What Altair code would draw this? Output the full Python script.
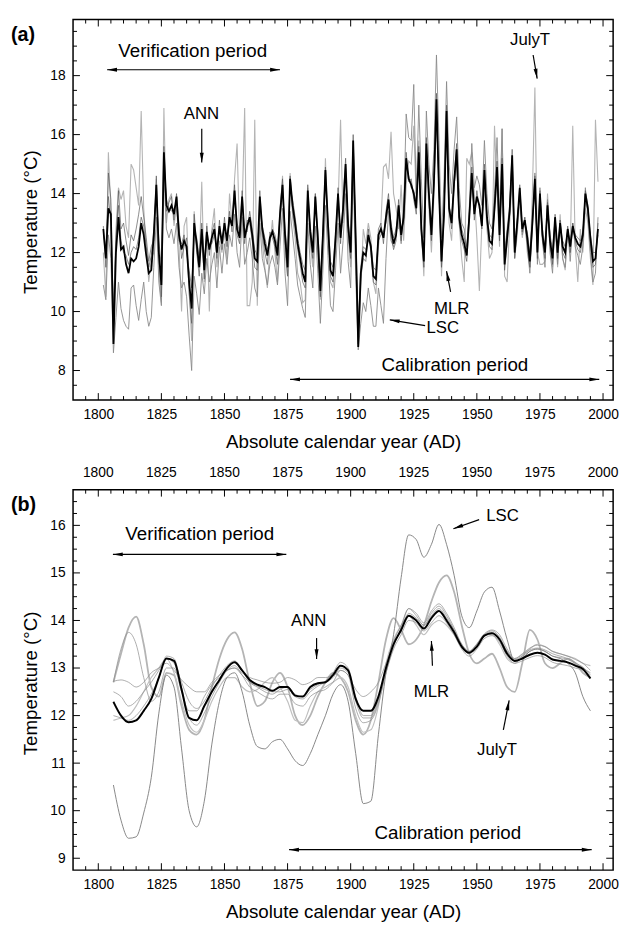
import math
import altair as alt
import pandas as pd

FONT = "Liberation Sans"
W, H = 548, 386
XDOM = [1790, 2004]
YDOM_A = [7.0, 19.9]
YDOM_B = [8.75, 16.75]

XLAB = [1800, 1825, 1850, 1875, 1900, 1925, 1950, 1975, 2000]
YLAB_A = [8, 10, 12, 14, 16, 18]
YLAB_B = [9, 10, 11, 12, 13, 14, 15, 16]

# ---------------- panel (a): annual values 1802-1998 ----------------
YEARS_A = list(range(1802, 1999))

MLR_A = [
    12.8, 11.8, 13.5, 13.3, 8.9, 12.0, 13.2, 12.1, 12.2, 11.6,
    11.3, 11.8, 11.7, 11.8, 12.2, 13.0, 12.6, 11.9, 11.3, 11.4,
    12.6, 14.3, 12.0, 10.9, 15.4, 13.6, 13.4, 13.6, 13.3, 13.9,
    12.6, 12.1, 12.4, 12.2, 11.0, 10.1, 13.0, 12.3, 11.5, 12.8,
    11.4, 12.7, 12.1, 12.5, 12.8, 12.0, 12.9, 12.3, 13.0, 12.4,
    13.2, 12.9, 14.1, 12.8, 12.5, 13.9, 12.5, 12.9, 13.2, 12.6,
    11.8, 11.7, 13.9, 12.8, 12.3, 11.9, 12.5, 12.7, 12.4, 11.9,
    13.3, 14.3, 12.6, 11.5, 14.5, 13.6, 13.0, 12.3, 11.8, 11.3,
    11.0, 14.1, 12.7, 12.0, 13.9, 12.5, 10.7, 12.6, 14.8, 13.0,
    11.4, 11.2, 12.5, 14.0, 12.5, 13.5, 15.0, 12.9, 12.0, 15.8,
    12.5, 8.8, 11.3, 12.0, 11.9, 12.6, 12.2, 11.2, 11.1, 12.6,
    12.8, 12.5, 13.2, 13.8, 12.8, 12.3, 12.6, 13.6, 12.6, 13.2,
    15.2, 14.5, 14.3, 14.0, 13.5, 15.4, 12.8, 11.7, 15.7, 14.0,
    12.6, 14.4, 17.2, 14.1, 11.7, 13.3, 16.8, 13.5, 13.0, 14.4,
    15.5, 13.2, 12.6, 12.3, 11.9, 13.2, 14.7, 13.3, 13.9, 13.6,
    12.9, 14.8, 13.2, 12.4, 12.3, 13.5, 14.9, 12.6, 15.0, 11.6,
    12.5, 13.4, 15.3, 12.0, 13.0, 14.2, 12.8, 13.1, 12.5, 11.7,
    13.0, 14.5, 12.0, 14.0, 12.6, 12.0, 13.6, 12.4, 11.8, 13.2,
    12.0, 13.0, 12.2, 12.0, 12.8, 12.2, 12.9, 12.5, 12.3, 12.2,
    12.6, 14.0, 13.5, 12.5, 11.7, 11.8, 12.8,
]

E1_A = [
    12.6, 12.2, 13.9, 13.0, 10.0, 12.5, 13.6, 12.4, 12.0, 11.9,
    11.6, 12.0, 12.2, 12.1, 12.5, 13.2, 12.9, 12.2, 11.5, 11.9,
    12.8, 14.1, 12.4, 11.5, 15.0, 13.8, 13.5, 13.4, 13.5, 13.7,
    12.4, 12.3, 12.6, 12.0, 11.4, 10.8, 12.7, 12.5, 11.8, 13.0,
    11.8, 12.5, 12.3, 12.3, 12.6, 12.2, 12.7, 12.5, 12.8, 12.6,
    13.0, 13.1, 13.8, 13.0, 12.7, 13.6, 12.8, 12.7, 13.4, 12.8,
    12.1, 11.9, 13.6, 12.9, 12.5, 12.1, 12.4, 12.8, 12.6, 12.2,
    13.1, 14.0, 12.8, 11.9, 14.2, 13.8, 13.2, 12.5, 12.0, 11.6,
    11.4, 13.8, 12.9, 12.2, 13.7, 12.7, 11.2, 12.5, 14.4, 13.2,
    11.7, 11.5, 12.6, 13.8, 12.7, 13.4, 14.7, 13.1, 12.3, 15.4,
    12.7, 9.5, 11.5, 12.2, 12.1, 12.4, 12.3, 11.5, 11.4, 12.4,
    12.6, 12.7, 13.0, 13.6, 13.0, 12.5, 12.8, 13.4, 12.8, 13.0,
    15.0, 14.6, 14.2, 14.1, 13.7, 15.1, 13.0, 12.0, 15.3, 14.1,
    12.8, 14.3, 16.8, 14.0, 12.0, 13.4, 16.4, 13.6, 13.2, 14.3,
    15.1, 13.4, 12.8, 12.5, 12.2, 13.3, 14.4, 13.5, 13.8, 13.6,
    13.0, 14.6, 13.3, 12.6, 12.5, 13.4, 14.6, 12.8, 14.7, 11.9,
    12.7, 13.3, 15.0, 12.3, 13.1, 14.0, 12.9, 13.0, 12.7, 12.0,
    13.1, 14.2, 12.2, 13.8, 12.8, 12.2, 13.5, 12.6, 12.1, 13.1,
    12.2, 12.9, 12.4, 12.2, 12.7, 12.4, 12.8, 12.6, 12.5, 12.4,
    12.7, 13.8, 13.4, 12.6, 12.0, 12.0, 12.6,
]

E2_A = [
    12.9, 11.5, 14.7, 13.8, 9.6, 12.2, 14.1, 12.8, 13.0, 12.4,
    11.9, 12.6, 12.4, 12.8, 13.3, 13.9, 13.2, 12.5, 11.7, 12.2,
    12.4, 14.6, 11.8, 10.5, 15.6, 13.4, 13.7, 13.9, 13.1, 14.0,
    12.9, 11.8, 12.2, 12.5, 10.6, 9.6, 13.3, 12.0, 11.2, 12.6,
    11.1, 12.9, 11.9, 12.7, 13.0, 11.8, 13.1, 12.1, 13.2, 12.2,
    13.4, 12.7, 14.3, 12.6, 12.3, 14.1, 12.3, 13.1, 13.0, 12.4,
    11.5, 11.4, 14.1, 12.6, 12.0, 11.6, 12.7, 12.5, 12.2, 11.6,
    13.5, 14.5, 12.4, 11.2, 14.6, 13.4, 12.8, 12.1, 11.6, 11.0,
    10.8, 14.3, 12.5, 11.8, 14.0, 12.3, 10.5, 12.8, 14.9, 12.8,
    11.2, 11.0, 12.3, 14.2, 12.3, 13.7, 15.2, 12.7, 11.8, 16.0,
    12.3, 8.9, 11.1, 11.8, 11.7, 12.8, 12.0, 11.0, 10.9, 12.8,
    13.0, 12.3, 13.4, 14.0, 12.6, 12.1, 12.4, 13.8, 12.4, 13.4,
    15.4, 14.4, 14.5, 13.8, 13.3, 15.6, 12.6, 11.5, 15.9, 13.8,
    12.4, 14.6, 17.4, 14.2, 11.5, 13.2, 17.0, 13.4, 12.8, 14.5,
    15.7, 13.0, 12.4, 12.1, 11.7, 13.1, 14.9, 13.1, 14.1, 13.5,
    12.8, 15.0, 13.1, 12.2, 12.1, 13.6, 15.1, 12.4, 15.2, 11.4,
    12.3, 13.5, 15.5, 11.8, 12.9, 14.3, 12.7, 13.2, 12.3, 11.5,
    12.9, 14.6, 11.8, 14.1, 12.4, 11.8, 13.7, 12.2, 11.6, 13.3,
    11.8, 13.1, 12.0, 11.8, 12.9, 12.0, 13.0, 12.4, 12.1, 12.0,
    12.5, 14.1, 13.6, 12.3, 11.5, 11.6, 13.0,
]

LSC_A = [
    10.9, 10.4, 12.6, 11.8, 8.6, 9.8, 11.0, 10.1, 9.7, 9.5,
    9.4, 10.8, 10.9, 10.2, 9.7, 10.4, 11.0, 10.0, 9.5, 9.8,
    11.5, 13.2, 11.0, 10.2, 14.6, 12.8, 12.5, 12.8, 12.3, 13.0,
    11.5, 10.8, 11.0, 10.5, 9.2, 8.0, 11.2, 10.6, 9.9, 11.3,
    10.6, 11.8, 11.0, 11.6, 12.0, 10.8, 12.2, 11.3, 12.3, 11.6,
    12.6, 12.2, 13.3, 12.0, 11.5, 13.2, 11.6, 12.0, 12.5, 11.8,
    10.8, 10.5, 13.0, 11.8, 11.4, 10.9, 11.6, 11.9, 11.5, 10.9,
    12.2, 13.5, 11.3, 10.2, 13.4, 12.6, 11.8, 10.9, 10.5, 10.1,
    9.8, 13.0, 11.6, 10.8, 12.9, 11.3, 9.6, 11.4, 13.6, 11.9,
    10.2, 10.0, 11.4, 13.0, 11.3, 12.4, 14.0, 11.7, 10.8, 14.8,
    11.2, 8.7, 9.6, 10.3, 10.0, 10.8, 10.2, 9.5, 9.5, 10.8,
    10.2, 9.6, 11.8, 13.4, 12.4, 12.2, 12.6, 13.2, 12.3, 13.4,
    16.7, 15.9, 15.8, 17.7, 14.0, 17.0, 14.5, 12.5, 16.8, 15.0,
    14.0, 15.5, 18.7, 15.8, 12.5, 14.5, 17.8, 15.0, 14.0, 15.5,
    16.6, 14.2, 13.0, 12.8, 12.0, 13.5, 15.7, 14.2, 14.6, 14.3,
    13.6, 15.8, 14.0, 13.0, 12.8, 14.0, 15.9, 13.2, 16.2, 12.0,
    12.8, 13.6, 15.2, 12.0, 13.1, 14.0, 12.6, 13.0, 12.2, 11.3,
    12.8, 14.7, 11.6, 14.2, 12.4, 11.5, 13.8, 12.0, 11.3, 13.2,
    11.6, 13.1, 11.8, 11.5, 12.8, 11.7, 13.0, 12.2, 11.9, 11.6,
    12.2, 14.2, 13.2, 12.0, 11.0, 11.3, 13.2,
]

JULYT_A = [
    12.0, 10.5, 15.4, 13.4, 9.4, 12.8, 14.2, 13.8, 14.1, 12.9,
    12.5, 15.0, 14.8, 14.2, 13.6, 16.8, 13.5, 12.2, 11.0, 11.8,
    12.0, 14.5, 11.3, 10.3, 16.9, 13.0, 13.8, 14.0, 12.9, 13.6,
    12.2, 10.0, 12.9, 13.2, 10.8, 9.0, 13.4, 12.0, 11.6, 14.4,
    11.0, 13.0, 10.0, 12.8, 13.5, 11.5, 12.4, 12.0, 12.7, 11.8,
    14.0, 13.0, 14.5, 15.7, 12.5, 13.5, 16.9, 10.2, 10.2, 11.0,
    16.5, 10.2, 13.6, 12.4, 11.5, 10.8, 12.2, 13.1, 12.0, 11.0,
    13.0, 14.6, 12.0, 11.2, 14.7, 13.2, 12.5, 11.3, 11.0, 10.3,
    10.4, 14.2, 12.3, 11.5, 14.0, 12.0, 10.4, 11.9, 15.2, 12.6,
    11.0, 10.8, 12.0, 13.5, 16.5, 13.0, 14.5, 12.5, 11.5, 15.8,
    12.0, 9.2, 10.8, 12.8, 12.3, 13.0, 12.5, 11.0, 10.6, 12.2,
    13.0, 14.9, 15.0, 14.5, 16.1, 14.0, 13.5, 12.8, 14.3, 12.4,
    14.3, 15.1, 15.0, 16.3, 13.8, 15.8, 12.8, 11.2, 15.0, 13.5,
    12.0, 13.9, 16.5, 14.5, 11.2, 13.5, 16.2, 13.0, 12.4, 14.2,
    15.2, 13.0, 11.8, 11.0, 15.2, 15.0, 15.4, 14.0, 12.5, 10.7,
    13.0, 14.2, 12.8, 11.8, 12.0, 16.3, 14.0, 12.2, 16.2, 11.2,
    11.0, 13.0, 14.5, 11.8, 12.6, 13.8, 12.5, 13.2, 12.0, 11.5,
    14.0, 17.6, 12.0, 11.6, 11.6, 11.7, 14.0, 12.5, 11.5, 13.0,
    11.5, 13.3, 11.8, 11.4, 12.8, 12.0, 16.3, 12.2, 11.0, 12.8,
    12.0, 13.5, 13.0, 11.8, 10.9, 16.5, 14.4,
]

# ---------------- panel (b): smoothed values, read every 3 years ----------------
YEARS_B = list(range(1806, 1996, 3))

MLR_B = [
    12.29, 12.0, 11.86, 11.9, 12.1, 12.35, 12.8, 13.2, 13.15, 12.55,
    11.95, 11.9, 12.2, 12.5, 12.75, 13.0, 13.12, 12.95, 12.75, 12.65,
    12.6, 12.52, 12.6, 12.6, 12.42, 12.4, 12.6, 12.68, 12.7, 12.85,
    13.05, 12.95, 12.35, 12.1, 12.1, 12.4, 13.0, 13.5, 13.8, 14.1,
    14.0, 13.83, 14.05, 14.2, 14.0, 13.75, 13.45, 13.32, 13.45, 13.68,
    13.73, 13.6, 13.3, 13.15, 13.2, 13.28, 13.32, 13.28, 13.18, 13.15,
    13.12, 13.05, 12.98, 12.78,
]
LSC_B = [
    10.54, 9.8, 9.42, 9.45, 9.95, 10.7, 12.05, 12.85, 12.6, 11.3,
    10.0, 9.66, 10.2, 11.4, 12.3, 12.8, 12.9, 12.5, 11.8, 11.35,
    11.3, 11.45, 11.5, 11.3, 11.05, 10.95, 11.2, 11.6, 12.0, 12.45,
    12.65, 12.3, 11.2, 10.15, 10.2, 11.6, 12.9, 13.7, 14.9, 15.8,
    15.7, 15.33, 15.6, 16.02, 15.6, 14.95, 14.1, 13.85, 14.2, 14.6,
    14.7, 14.2, 13.6, 13.15, 13.2, 13.35, 13.4, 13.35, 13.25, 13.2,
    13.1, 12.9, 12.4, 12.1,
]
JULYT_B = [
    12.7, 13.3, 13.85, 14.08, 13.5, 12.6, 12.4, 12.9, 12.85, 12.2,
    11.7, 11.6, 11.9, 12.6, 13.2, 13.6, 13.75, 13.4, 12.7, 12.2,
    12.3, 12.7, 12.9, 12.6, 12.0, 11.8, 12.0, 12.4, 12.7, 12.9,
    12.8, 12.5, 11.9, 11.6, 11.9, 12.7, 13.6, 14.05, 13.8, 13.5,
    13.6, 13.9, 14.4, 14.8, 14.95, 14.6, 13.9, 13.3, 13.1, 13.2,
    13.3, 13.0, 12.6, 12.5, 13.1, 13.8, 13.6, 13.1, 13.0, 13.1,
    13.2, 13.1, 12.9, 12.8,
]
L2_B = [
    11.9, 11.95, 12.0, 12.2, 12.5, 12.8, 13.0, 13.2, 12.9, 12.3,
    11.8, 11.65, 11.9, 12.3, 12.6, 12.8, 12.8, 12.6, 12.5, 12.55,
    12.7, 12.8, 12.6, 12.3, 11.9, 11.85, 12.2, 12.5, 12.6, 12.7,
    12.8, 12.6, 12.0, 11.65, 11.7, 12.2, 13.1, 13.6, 13.9, 14.1,
    13.9, 13.7, 13.9, 14.0, 13.9, 13.7, 13.45, 13.35, 13.5, 13.7,
    13.7, 13.5, 13.2, 13.1, 13.25, 13.4, 13.5, 13.45, 13.35, 13.3,
    13.25, 13.2, 13.1, 13.05,
]
EB1 = [
    12.72, 12.75, 12.7, 12.6, 12.7, 12.9, 13.0, 13.1, 12.95, 12.75,
    12.6, 12.5, 12.5, 12.7, 12.85, 12.95, 13.0, 12.9, 12.8, 12.75,
    12.7, 12.68, 12.7, 12.8, 12.75, 12.65, 12.7, 12.8, 12.8, 12.85,
    12.95, 12.85, 12.55, 12.4, 12.5, 12.7, 13.1, 13.5, 13.8, 14.15,
    14.05, 13.9, 14.1, 14.25, 14.05, 13.8, 13.5, 13.35, 13.5, 13.7,
    13.75, 13.62, 13.35, 13.2, 13.28, 13.38, 13.42, 13.38, 13.3, 13.25,
    13.2, 13.12, 13.0, 12.9,
]
EB2 = [
    12.5, 12.4, 12.2, 12.3, 12.5, 12.7, 12.95, 13.2, 13.1, 12.7,
    12.3, 12.15, 12.3, 12.6, 12.85, 13.05, 13.15, 12.95, 12.7, 12.6,
    12.5, 12.45, 12.55, 12.6, 12.45, 12.4, 12.55, 12.65, 12.72, 12.9,
    13.12, 13.0, 12.4, 12.0, 12.0, 12.35, 13.0, 13.55, 13.9, 14.25,
    14.1, 13.9, 14.15, 14.3, 14.1, 13.8, 13.45, 13.3, 13.45, 13.7,
    13.78, 13.65, 13.35, 13.18, 13.25, 13.35, 13.4, 13.35, 13.25, 13.22,
    13.18, 13.1, 13.02, 12.85,
]
EB3 = [
    12.7, 13.4, 13.75, 13.5, 12.8, 12.3, 12.5, 13.0, 13.0, 12.5,
    12.1, 12.1, 12.4, 12.65, 12.8, 12.95, 13.0, 12.85, 12.7, 12.62,
    12.55, 12.5, 12.5, 12.55, 12.4, 12.35, 12.5, 12.62, 12.7, 12.8,
    13.0, 12.9, 12.3, 11.95, 11.95, 12.3, 12.9, 13.4, 13.7, 14.0,
    13.95, 13.78, 13.95, 14.1, 13.95, 13.7, 13.4, 13.25, 13.4, 13.62,
    13.68, 13.55, 13.25, 13.1, 13.15, 13.22, 13.26, 13.22, 13.12, 13.08,
    13.05, 13.0, 12.95, 12.8,
]
EB4 = [
    12.0, 11.95, 11.9, 12.0, 12.2, 12.45, 12.8, 13.25, 13.2, 12.6,
    11.95, 11.8, 12.05, 12.4, 12.7, 12.95, 13.05, 12.85, 12.6, 12.5,
    12.4, 12.35, 12.45, 12.45, 12.25, 12.2, 12.4, 12.5, 12.55, 12.7,
    12.95, 12.85, 12.15, 11.85, 11.9, 12.25, 12.9, 13.45, 13.85, 14.25,
    14.15, 13.95, 14.2, 14.35, 14.15, 13.85, 13.5, 13.35, 13.5, 13.72,
    13.8, 13.7, 13.4, 13.2, 13.3, 13.42, 13.48, 13.45, 13.35, 13.3,
    13.25, 13.18, 13.1, 12.95,
]

# ---------------- annotations ----------------
TEXT_A = {"label": ["Verification period", "Calibration period", "ANN", "JulyT", "MLR", "LSC"],
          "x": [1837.4, 1941.3, 1840.9, 1971.1, 1940.0, 1936.5],
          "y": [18.83, 8.2, 16.7, 19.2, 10.1, 9.45],
          "size": [19, 19, 17, 17, 17, 17]}
ARROW_A = {"x": [1803.5, 1876.0, 1841.0, 1972.3, 1939.6, 1929.5],
           "y": [18.2, 7.7, 16.2, 18.7, 10.67, 9.52],
           "x2": [1872.0, 1998.5, 1841.0, 1973.9, 1938.0, 1915.5],
           "y2": [18.2, 7.7, 15.05, 17.9, 11.37, 9.72],
           "double": [True, True, False, False, False, False]}

TEXT_B = {"label": ["Verification period", "Calibration period", "LSC", "ANN", "MLR", "JulyT"],
          "x": [1840.2, 1938.5, 1960.2, 1883.4, 1932.0, 1958.0],
          "y": [15.81, 9.52, 16.2, 13.98, 12.49, 11.28],
          "size": [19, 19, 17, 17, 17, 17]}
ARROW_B = {"x": [1805.8, 1875.6, 1950.9, 1886.5, 1932.4, 1960.5],
           "y": [15.39, 9.18, 16.12, 13.63, 13.05, 11.7],
           "x2": [1874.5, 1995.5, 1940.7, 1886.5, 1932.0, 1962.8],
           "y2": [15.39, 9.18, 15.93, 13.19, 13.57, 12.32],
           "double": [True, True, False, False, False, False]}

ARROW_SHAPE = "M0,0L-0.4,2L0.4,2Z"


def axes(ydom, ylabels, title_y):
    xs = alt.Scale(domain=XDOM, nice=False, zero=False)
    ys = alt.Scale(domain=ydom, nice=False, zero=False)
    xax = alt.Axis(values=XLAB, format="d", ticks=False, domain=False, grid=False,
                   labelFontSize=14, labelPadding=8, labelFlush=False, labelFont=FONT,
                   labelColor="black", title="Absolute calendar year (AD)", titleFont=FONT,
                   titleFontSize=19, titleFontWeight="normal", titleColor="black", titlePadding=11)
    yax = alt.Axis(values=ylabels, ticks=False, domain=False, grid=False,
                   labelFontSize=14, labelPadding=8, labelFont=FONT, labelColor="black",
                   title="Temperature (°C)", titleFont=FONT, titleFontSize=19,
                   titleFontWeight="normal", titleColor="black", titlePadding=10, titleY=title_y)
    return xs, ys, xax, yax


def panel(series, ydom, ylabels, yminor_step, ymajor_step, texts, arrows, tag, top_labels, title_y):
    xs, ys, xax, yax = axes(ydom, ylabels, title_y)
    X = lambda f: alt.X(f"{f}:Q", scale=xs, axis=xax)
    Y = lambda f: alt.Y(f"{f}:Q", scale=ys, axis=yax)
    layers = []
    for years, vals, color, width, interp in series:
        df = pd.DataFrame({"year": years, "t": vals})
        layers.append(alt.Chart(df).mark_line(color=color, strokeWidth=width, interpolate=interp)
                      .encode(x=X("year"), y=Y("t")))

    # tick marks (inward, all four sides)
    xt = [v for v in range(1795, 2001, 5)]
    xmaj = [v for v in xt if v % 25 == 0]
    xmin = [v for v in xt if v % 25 != 0]
    n = int(round((ydom[1] - ydom[0]) / yminor_step))
    yt = [round(ydom[0] + i * yminor_step, 3) for i in range(1, n + 1) if ydom[0] + i * yminor_step < ydom[1] - 0.01]
    ymaj = [v for v in yt if abs(v / ymajor_step - round(v / ymajor_step)) < 1e-6]
    ymin = [v for v in yt if v not in ymaj]
    for vals, L in [(xmaj, 7), (xmin, 4)]:
        base = alt.Chart(pd.DataFrame({"v": vals})).mark_rule(color="black", strokeWidth=1)
        layers.append(base.encode(x=X("v"), y=alt.value(H), y2=alt.value(H - L)))
        layers.append(base.encode(x=X("v"), y=alt.value(0), y2=alt.value(L)))
    for vals, L in [(ymaj, 7), (ymin, 4)]:
        base = alt.Chart(pd.DataFrame({"v": vals})).mark_rule(color="black", strokeWidth=1)
        layers.append(base.encode(y=Y("v"), x=alt.value(0), x2=alt.value(L)))
        layers.append(base.encode(y=Y("v"), x=alt.value(W), x2=alt.value(W - L)))

    # annotation text
    tdf = pd.DataFrame(texts)
    for sz in sorted(set(texts["size"])):
        layers.append(alt.Chart(tdf[tdf["size"] == sz]).mark_text(
            font=FONT, fontSize=sz, color="black", align="center", baseline="middle")
            .encode(x=X("x"), y=Y("y"), text="label:N"))

    # arrows
    adf = pd.DataFrame(arrows)
    layers.append(alt.Chart(adf).mark_rule(color="black", strokeWidth=1.2)
                  .encode(x=X("x"), x2="x2:Q", y=Y("y"), y2="y2:Q"))
    kx = W / (XDOM[1] - XDOM[0])
    ky = H / (ydom[1] - ydom[0])
    heads = {"hx": [], "hy": [], "ang": []}

    def add_head(x1, y1, x2, y2):
        dxp = (x2 - x1) * kx
        dyp = -(y2 - y1) * ky
        ang = math.degrees(math.atan2(dxp, -dyp)) % 360
        heads["hx"].append(x2)
        heads["hy"].append(y2)
        heads["ang"].append(round(ang, 2))

    for x1, y1, x2, y2, dbl in zip(arrows["x"], arrows["y"], arrows["x2"], arrows["y2"], arrows["double"]):
        add_head(x1, y1, x2, y2)
        if dbl:
            add_head(x2, y2, x1, y1)
    layers.append(alt.Chart(pd.DataFrame(heads)).mark_point(
        shape=ARROW_SHAPE, filled=True, size=100, color="black", opacity=1, strokeWidth=0)
        .encode(x=X("hx"), y=Y("hy"), angle=alt.Angle("ang:Q", scale=None)))

    # panel tag
    layers.append(alt.Chart(pd.DataFrame({"t": [tag]})).mark_text(
        font=FONT, fontSize=20, fontWeight="bold", align="left", baseline="middle", color="black")
        .encode(text="t:N", x=alt.value(-63), y=alt.value(16)))

    if top_labels:
        layers.append(alt.Chart(pd.DataFrame({"v": XLAB})).mark_text(
            font=FONT, fontSize=14, baseline="middle", align="center", color="black")
            .encode(x=X("v"), y=alt.value(-17), text=alt.Text("v:Q", format="d")))

    return alt.layer(*layers).properties(width=W, height=H)


LIGHT = "#b4b4b4"
MID = "#8a8a8a"
DARK = "#5a5a5a"

series_a = [
    (YEARS_A, JULYT_A, LIGHT, 1.1, "linear"),
    (YEARS_A, LSC_A, MID, 0.9, "linear"),
    (YEARS_A, E2_A, DARK, 0.7, "linear"),
    (YEARS_A, E1_A, DARK, 0.7, "linear"),
    (YEARS_A, MLR_A, "black", 1.8, "linear"),
]
series_b = [
    (YEARS_B, JULYT_B, LIGHT, 1.8, "monotone"),
    (YEARS_B, L2_B, "#c0c0c0", 1.2, "monotone"),
    (YEARS_B, LSC_B, "#7a7a7a", 0.9, "monotone"),
    (YEARS_B, EB1, MID, 0.7, "monotone"),
    (YEARS_B, EB2, MID, 0.7, "monotone"),
    (YEARS_B, EB3, MID, 0.7, "monotone"),
    (YEARS_B, EB4, MID, 0.7, "monotone"),
    (YEARS_B, MLR_B, "black", 2.0, "monotone"),
]

pa = panel(series_a, YDOM_A, YLAB_A, 0.5, 2, TEXT_A, ARROW_A, "(a)", False, 205)
pb = panel(series_b, YDOM_B, YLAB_B, 0.25, 1, TEXT_B, ARROW_B, "(b)", True, 196)

chart = alt.vconcat(pa, pb, spacing=13).properties(
    padding={"left": 2, "top": 3, "right": 2, "bottom": 2}
).configure_view(stroke="black", strokeWidth=1.5)

chart.save("out.html", embed_options={"renderer": "svg", "actions": False})
